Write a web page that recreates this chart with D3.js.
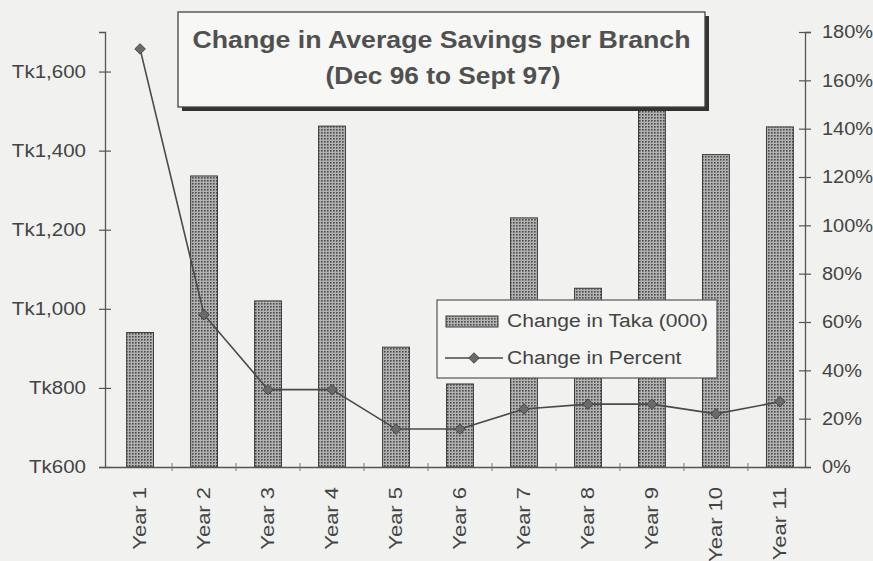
<!DOCTYPE html>
<html>
<head>
<meta charset="utf-8">
<script src="https://cdn.jsdelivr.net/npm/d3@7"></script>
<style>
  body { margin: 0; background: #f1f1ef; }
  svg { display: block; font-family: "Liberation Sans", Arial, sans-serif; }
</style>
</head>
<body>
<div id="chart"></div>
<script>
// datos
const years = ["Year 1", "Year 2", "Year 3", "Year 4", "Year 5", "Year 6",
               "Year 7", "Year 8", "Year 9", "Year 10", "Year 11"];
const changeTaka = [940, 1336, 1020, 1462, 903, 810, 1230, 1052, 1505, 1390, 1460];
const changePct = [173, 63, 32, 32, 15.7, 15.7, 24, 26, 26, 22, 27];
const leftTicks = [600, 800, 1000, 1200, 1400, 1600];
const rightTicks = [0, 20, 40, 60, 80, 100, 120, 140, 160, 180];

const W = 873, H = 561;
const margin = { top: 32, right: 68, bottom: 94, left: 105 };

// estira el texto a lo ancho, como en el escaneo original
function estirar(sel, k) {
  sel.each(function () {
    const w = this.getComputedTextLength();
    d3.select(this).attr("textLength", w * k).attr("lengthAdjust", "spacingAndGlyphs");
  });
}

const svg = d3.select("#chart").append("svg")
  .attr("width", W).attr("height", H)
  .attr("viewBox", `0 0 ${W} ${H}`);

svg.append("rect").attr("width", W).attr("height", H).attr("fill", "#f1f1ef");

// patron punteado de las barras
const defs = svg.append("defs");
const pat = defs.append("pattern")
  .attr("id", "dots").attr("width", 3).attr("height", 3)
  .attr("patternUnits", "userSpaceOnUse");
pat.append("rect").attr("width", 3).attr("height", 3).attr("fill", "#b2b2b2");
pat.append("rect").attr("width", 1.6).attr("height", 1.6).attr("fill", "#4a4a4a");

const x = d3.scaleBand()
  .domain(years)
  .range([margin.left, W - margin.right])
  .paddingInner(0.58)
  .paddingOuter(0.26)
  .align(0.65);

const yL = d3.scaleLinear().domain([600, 1700]).range([H - margin.bottom, margin.top]);
const yR = d3.scaleLinear().domain([0, 180]).range([H - margin.bottom, margin.top]);

// barras
svg.append("g").selectAll("rect")
  .data(years)
  .join("rect")
  .attr("x", d => x(d))
  .attr("y", (d, i) => yL(changeTaka[i]))
  .attr("width", x.bandwidth())
  .attr("height", (d, i) => yL(600) - yL(changeTaka[i]))
  .attr("fill", "url(#dots)")
  .attr("stroke", "#3c3c3c")
  .attr("stroke-width", 1);

// ejes
const axisColor = "#555";
const gL = svg.append("g")
  .attr("transform", `translate(${margin.left},0)`)
  .call(d3.axisLeft(yL).tickValues(leftTicks)
    .tickFormat(d => "Tk" + d3.format(",")(d)).tickSize(6).tickPadding(13));
gL.selectAll(".tick line").attr("x1", 6).attr("x2", -6);

const gR = svg.append("g")
  .attr("transform", `translate(${W - margin.right},0)`)
  .call(d3.axisRight(yR).tickValues(rightTicks)
    .tickFormat(d => d + "%").tickSize(6).tickPadding(11));
gR.selectAll(".tick line").attr("x1", -6).attr("x2", 6);

const gB = svg.append("g")
  .attr("transform", `translate(0,${H - margin.bottom})`)
  .call(d3.axisBottom(x).tickSize(0).tickPadding(0));
gB.selectAll(".tick text")
  .attr("transform", "rotate(-90)")
  .attr("x", -20).attr("y", 0).attr("dy", "0.35em")
  .attr("text-anchor", "end");

// marcas pequenas entre categorias
const limites = years.slice(1).map(d => x(d) - x.step() * x.paddingInner() / 2);
gB.selectAll(".sep").data(limites).join("line")
  .attr("class", "sep")
  .attr("x1", d => d).attr("x2", d => d)
  .attr("y1", -4).attr("y2", 4)
  .attr("stroke", "#777").attr("stroke-width", 1);

[gL, gR, gB].forEach(g => {
  g.select(".domain").attr("stroke", axisColor).attr("stroke-width", 1.3);
  g.selectAll(".tick line").attr("stroke", axisColor).attr("stroke-width", 1.2);
  g.selectAll(".tick text").attr("fill", "#444").attr("font-size", 18)
    .style("font-family", "'Liberation Sans', Arial, sans-serif");
});
estirar(gL.selectAll(".tick text"), 1.14);
estirar(gR.selectAll(".tick text"), 1.11);
estirar(gB.selectAll(".tick text"), 1.22);

// linea de porcentaje
const cx = d => x(d) + x.bandwidth() / 2;
const line = d3.line().x(d => cx(d)).y((d, i) => yR(changePct[i]));
svg.append("path")
  .datum(years)
  .attr("d", line)
  .attr("fill", "none")
  .attr("stroke", "#4a4a4a")
  .attr("stroke-width", 1.6);

const diamond = d3.symbol().type(d3.symbolDiamond2).size(70);
svg.append("g").selectAll("path")
  .data(years)
  .join("path")
  .attr("d", diamond)
  .attr("transform", (d, i) => `translate(${cx(d)},${yR(changePct[i])})`)
  .attr("fill", "#6a6a6a")
  .attr("stroke", "#444");

// caja del titulo
const tb = { x: 178, y: 12, w: 527, h: 95 };
svg.append("rect")
  .attr("x", tb.x + 4).attr("y", tb.y + 4).attr("width", tb.w).attr("height", tb.h)
  .attr("fill", "#333");
svg.append("rect")
  .attr("x", tb.x).attr("y", tb.y).attr("width", tb.w).attr("height", tb.h)
  .attr("fill", "#f7f7f5").attr("stroke", "#444").attr("stroke-width", 1.3);
svg.append("text")
  .attr("x", tb.x + tb.w / 2).attr("y", 48)
  .attr("text-anchor", "middle").attr("font-size", 23).attr("font-weight", "bold")
  .attr("fill", "#505050")
  .attr("textLength", 498).attr("lengthAdjust", "spacingAndGlyphs")
  .text("Change in Average Savings per Branch");
svg.append("text")
  .attr("x", 443).attr("y", 84)
  .attr("text-anchor", "middle").attr("font-size", 23).attr("font-weight", "bold")
  .attr("fill", "#505050")
  .attr("textLength", 235).attr("lengthAdjust", "spacingAndGlyphs")
  .text("(Dec 96 to Sept 97)");

// leyenda
const lg = svg.append("g").attr("transform", "translate(437,300)");
lg.append("rect").attr("width", 280).attr("height", 78)
  .attr("fill", "#f5f5f3").attr("stroke", "#555").attr("stroke-width", 1.2);
lg.append("rect").attr("x", 9).attr("y", 16).attr("width", 52).attr("height", 11)
  .attr("fill", "url(#dots)").attr("stroke", "#3c3c3c");
const t1 = lg.append("text").attr("x", 70).attr("y", 27).attr("font-size", 18).attr("fill", "#444")
  .text("Change in Taka (000)");
lg.append("line").attr("x1", 8).attr("x2", 66).attr("y1", 58).attr("y2", 58)
  .attr("stroke", "#4a4a4a").attr("stroke-width", 1.6);
lg.append("path").attr("d", diamond).attr("transform", "translate(37,58)")
  .attr("fill", "#6a6a6a").attr("stroke", "#444");
const t2 = lg.append("text").attr("x", 70).attr("y", 64).attr("font-size", 18).attr("fill", "#444")
  .text("Change in Percent");
estirar(t1, 1.17);
estirar(t2, 1.17);
</script>
</body>
</html>
